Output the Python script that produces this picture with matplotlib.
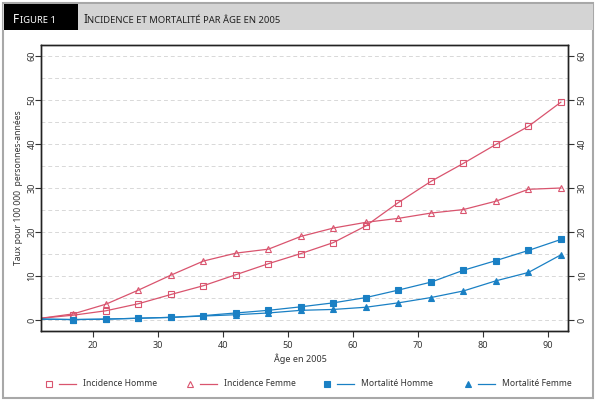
import matplotlib
matplotlib.use("Agg")
import matplotlib.pyplot as plt
from matplotlib.lines import Line2D
from matplotlib.patches import Rectangle

plt.rcParams['font.family'] = ['Noto Sans', 'DejaVu Sans']

# data
ages = [12, 17, 22, 27, 32, 37, 42, 47, 52, 57, 62, 67, 72, 77, 82, 87, 92]
inc_homme = [0.4, 1.1, 2.1, 3.7, 5.8, 7.8, 10.3, 12.8, 15.1, 17.6, 21.4, 26.7, 31.5, 35.6, 39.9, 44.0, 49.5]
inc_femme = [0.4, 1.4, 3.6, 6.8, 10.2, 13.4, 15.2, 16.1, 19.0, 20.9, 22.2, 23.1, 24.3, 25.1, 27.0, 29.7, 30.0]
mort_homme = [0.2, 0.1, 0.2, 0.4, 0.6, 1.0, 1.6, 2.2, 3.0, 3.9, 5.1, 6.8, 8.6, 11.3, 13.5, 15.8, 18.3]
mort_femme = [0.2, 0.1, 0.2, 0.4, 0.6, 0.9, 1.2, 1.6, 2.2, 2.4, 2.9, 3.9, 5.1, 6.6, 8.9, 10.8, 14.8]
yticks = [0, 10, 20, 30, 40, 50, 60]
xticks = [20, 30, 40, 50, 60, 70, 80, 90]
labels = ['Incidence Homme', 'Incidence Femme', 'Mortalité Homme', 'Mortalité Femme']

red = '#d9546e'
blue = '#1a80c4'
series = [
    (inc_homme, red, 's', 'none'),
    (inc_femme, red, '^', 'none'),
    (mort_homme, blue, 's', blue),
    (mort_femme, blue, '^', blue),
]

fig = plt.figure(figsize=(6, 4.04), dpi=100)

# outer frame and header
fig.patches.append(Rectangle((3 / 600, 1 - 398 / 404), 590 / 600, 395 / 404,
                             transform=fig.transFigure, fill=False,
                             edgecolor='#a8a8a8', lw=1.5))
fig.patches.append(Rectangle((3 / 600, 1 - 30 / 404), 590 / 600, 26 / 404,
                             transform=fig.transFigure, color='#d4d4d4', lw=0))
fig.patches.append(Rectangle((4 / 600, 1 - 30 / 404), 74 / 600, 26 / 404,
                             transform=fig.transFigure, color='black', lw=0))


def small_caps(x, y, first, rest, color):
    # first letter full size, the rest in smaller capitals
    t = fig.text(x, y, first, fontsize=8.5, color=color, va='baseline')
    r = fig.canvas.get_renderer()
    bb = t.get_window_extent(renderer=r)
    fig.text(bb.x1 / 600 + 0.5 / 600, y, rest, fontsize=6.8, color=color,
             va='baseline')


small_caps(13 / 600, 1 - 23 / 404, 'F', 'IGURE 1', 'white')
small_caps(83 / 600, 1 - 23 / 404, 'I', 'NCIDENCE ET MORTALITÉ PAR ÂGE EN 2005', '#222222')

ax = fig.add_axes([41 / 600, 1 - 331 / 404, 527 / 600, 286 / 404])

for vals, c, m, fc in series:
    ax.plot(ages, vals, color=c, lw=0.9, marker=m, markersize=4.5,
            markerfacecolor=fc, markeredgecolor=c, markeredgewidth=0.8,
            markevery=list(range(1, len(ages))))

ax.set_xlim(12, 93.1)
ax.set_ylim(-2.5, 62.5)
for g in range(0, 65, 5):
    ax.axhline(g, color='#d8d8d8', lw=0.7, ls=(0, (4, 3)), zorder=0)

ax.set_xticks(xticks)
ax.set_yticks(yticks)
ax.tick_params(axis='both', labelsize=6.5, colors='#333333', length=4,
               width=0.8, direction='out')
ax.tick_params(axis='y', labelrotation=90, pad=-0.8)
for lab in ax.get_yticklabels():
    lab.set_va('center')

ax2 = ax.twinx()
ax2.set_ylim(ax.get_ylim())
ax2.set_yticks(yticks)
ax2.tick_params(axis='y', labelsize=6.5, colors='#333333', length=4,
                width=0.8, direction='out', labelrotation=90, pad=3)
for lab in ax2.get_yticklabels():
    lab.set_va('center')

for a in (ax, ax2):
    for s in a.spines.values():
        s.set_linewidth(1.0)
        s.set_color('#222222')

fig.text(300 / 600, 1 - 359 / 404, 'Âge en 2005', fontsize=6.5, color='#333333',
         ha='center', va='center')
fig.text(19 / 600, 1 - 188 / 404, 'Taux pour 100 000  personnes-années',
         fontsize=6.2, color='#333333', rotation=90, ha='center', va='center')

# legend at bottom
leg_x = [49, 190, 327, 468]
ly = 1 - 384 / 404
for (vals, c, m, fc), lab, lx in zip(series, labels, leg_x):
    fig.lines.append(Line2D([lx / 600], [ly], marker=m, markersize=4.5,
                            markerfacecolor=fc, markeredgecolor=c,
                            markeredgewidth=0.8, transform=fig.transFigure))
    fig.lines.append(Line2D([(lx + 10) / 600, (lx + 27) / 600], [ly, ly],
                            color=c, lw=0.9, transform=fig.transFigure))
    fig.text((lx + 34) / 600, ly, lab, fontsize=6.2, color='#333333', va='center')

fig.savefig('out.png', dpi=100)
